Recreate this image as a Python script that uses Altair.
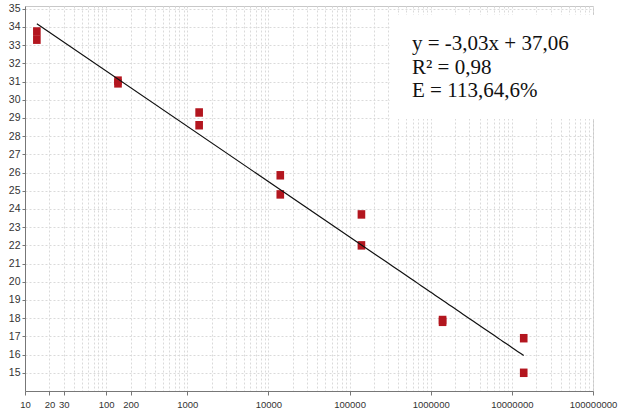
import altair as alt
import pandas as pd

# Copy number (x) vs. threshold cycle (y), two replicates per dilution
copies = [14, 14, 140, 140, 1400, 1400, 14000, 14000,
          140000, 140000, 1400000, 1400000, 14000000, 14000000]
ct = [33.75, 33.3, 31.05, 30.9, 29.3, 28.6, 25.85, 24.8,
      23.7, 22.0, 17.9, 17.8, 16.9, 15.0]

# Axis ticks: every 1..9 step of each decade; only some are labelled
x_ticks = [m * 10 ** d for d in range(1, 8) for m in range(1, 10)] + [10 ** 8]
x_labels = [10, 20, 30, 100, 200, 1000, 10000, 100000,
            1000000, 10000000, 100000000]
y_ticks = list(range(15, 36))

stats_text = "y = -3,03x + 37,06\nR² = 0,98\nE = 113,64,6%"

df = pd.DataFrame({"copies": copies, "ct": ct})

label_list = "[" + ",".join(str(v) for v in x_labels) + "]"
is_labelled = f"indexof({label_list}, datum.value) >= 0"

x_scale = alt.Scale(type="log", domain=[10, 100000000])
y_scale = alt.Scale(domain=[14, 35.15], nice=False, zero=False)

grid_color = "#dadada"

x_axis = alt.Axis(
    values=x_ticks,
    labelExpr=f"{is_labelled} ? format(datum.value, 'd') : ''",
    title=None,
    grid=True,
    gridDash=[2, 2],
    gridColor=grid_color,
    tickOpacity={"condition": {"test": is_labelled, "value": 1}, "value": 0},
    tickSize=4,
    tickColor="#777",
    domainColor="#777",
    labelFont="Liberation Sans",
    labelFontSize=9.5,
    labelColor="#333",
    labelPadding=4,
    labelOverlap=False,
    labelFlush=False,
)
y_axis = alt.Axis(
    values=y_ticks,
    title=None,
    grid=True,
    gridDash=[2, 2],
    gridColor=grid_color,
    tickSize=3,
    tickColor="#777",
    domainColor="#777",
    labelFont="Liberation Sans",
    labelFontSize=10.5,
    labelColor="#333",
    labelPadding=2,
    labelOverlap=False,
)

base = alt.Chart(df)

# Slightly tall rectangular markers
points = base.mark_point(
    shape="M-0.9,-1H0.9V1H-0.9Z",
    size=72,
    filled=True,
    color="#b3161f",
    opacity=1,
).encode(
    x=alt.X("copies:Q", scale=x_scale, axis=x_axis),
    y=alt.Y("ct:Q", scale=y_scale, axis=y_axis),
)

fit = base.transform_regression(
    "copies", "ct", method="log"
).mark_line(color="#111", strokeWidth=1.2).encode(
    x=alt.X("copies:Q", scale=x_scale, axis=x_axis),
    y=alt.Y("ct:Q", scale=y_scale, axis=y_axis),
)

box = alt.Chart(pd.DataFrame({"k": [0]})).mark_rect(color="white").encode(
    x=alt.value(365), x2=alt.value(572), y=alt.value(9), y2=alt.value(113)
)

label = alt.Chart(pd.DataFrame({"k": [0]})).mark_text(
    text=stats_text,
    lineBreak="\n",
    lineHeight=23.5,
    align="left",
    baseline="top",
    font="Liberation Serif",
    fontSize=21,
    color="#111",
).encode(x=alt.value(387), y=alt.value(27))

chart = alt.layer(points, fit, box, label).properties(
    width=568,
    height=385,
    autosize=alt.AutoSizeParams(type="none"),
    padding={"left": 25, "top": 6, "right": 26, "bottom": 21},
    background="white",
).configure_view(
    stroke="#c8c8c8", strokeWidth=1
).configure_axis(labelOverlap=False)

chart.save("out.html", embed_options={"renderer": "svg", "actions": False})
